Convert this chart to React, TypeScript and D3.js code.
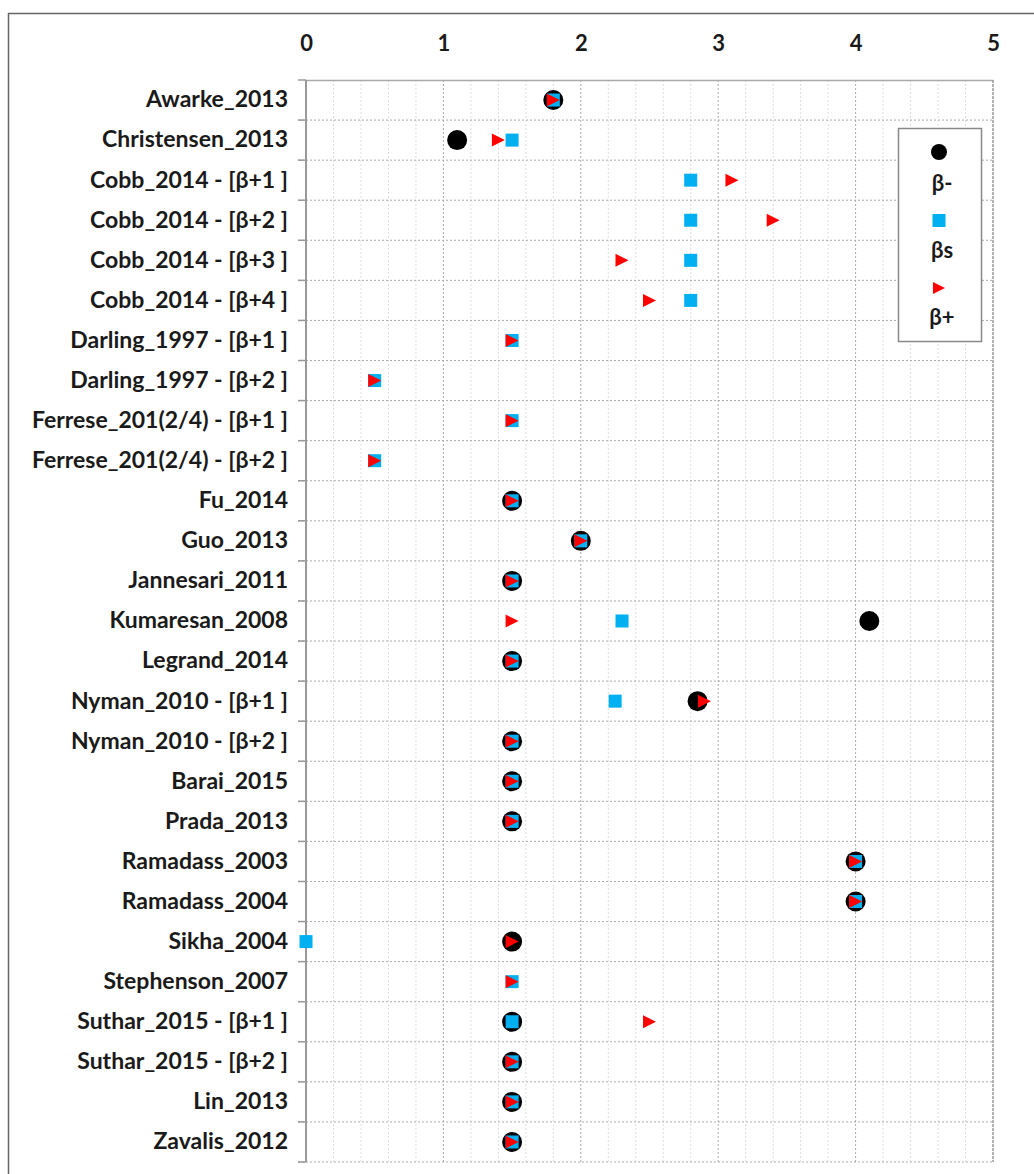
import { useEffect, useRef } from 'react';
import * as d3 from 'd3';

const studies = [
  'Awarke_2013',
  'Christensen_2013',
  'Cobb_2014 - [β+1 ]',
  'Cobb_2014 - [β+2 ]',
  'Cobb_2014 - [β+3 ]',
  'Cobb_2014 - [β+4 ]',
  'Darling_1997 - [β+1 ]',
  'Darling_1997 - [β+2 ]',
  'Ferrese_201(2/4) - [β+1 ]',
  'Ferrese_201(2/4) - [β+2 ]',
  'Fu_2014',
  'Guo_2013',
  'Jannesari_2011',
  'Kumaresan_2008',
  'Legrand_2014',
  'Nyman_2010 - [β+1 ]',
  'Nyman_2010 - [β+2 ]',
  'Barai_2015',
  'Prada_2013',
  'Ramadass_2003',
  'Ramadass_2004',
  'Sikha_2004',
  'Stephenson_2007',
  'Suthar_2015 - [β+1 ]',
  'Suthar_2015 - [β+2 ]',
  'Lin_2013',
  'Zavalis_2012',
];

// β- (black circles)
const betaMinus: (number | null)[] = [
  1.8, 1.1, null, null, null, null, null, null, null, null,
  1.5, 2, 1.5, 4.1, 1.5, 2.85, 1.5, 1.5, 1.5, 4, 4, 1.5, null, 1.5, 1.5, 1.5, 1.5,
];

// βs (blue squares)
const betaS: (number | null)[] = [
  1.8, 1.5, 2.8, 2.8, 2.8, 2.8, 1.5, 0.5, 1.5, 0.5,
  1.5, 2, 1.5, 2.3, 1.5, 2.25, 1.5, 1.5, 1.5, 4, 4, 0, 1.5, 1.5, 1.5, 1.5, 1.5,
];

// β+ (red triangles)
const betaPlus: (number | null)[] = [
  1.8, 1.4, 3.1, 3.4, 2.3, 2.5, 1.5, 0.5, 1.5, 0.5,
  1.5, 2, 1.5, 1.5, 1.5, 2.9, 1.5, 1.5, 1.5, 4, 4, 1.5, 1.5, 2.5, 1.5, 1.5, 1.5,
];

const xTicks = [0, 1, 2, 3, 4, 5];
const legendLabels = ['β-', 'βs', 'β+'];

const W = 1034;
const H = 1174;
const FONT = 'Lato, "Open Sans", sans-serif';
const BLUE = '#00B0F0';
const RED = '#FF0000';
const triPath = 'M-6.5,-6.5L6.5,0L-6.5,6.5Z';

export default function App() {
  const svgRef = useRef<SVGSVGElement>(null);

  useEffect(() => {
    const svg = d3.select(svgRef.current);
    svg.selectAll('*').remove();

    const margin = { top: 80, right: 41, bottom: 12, left: 306 };
    const innerWidth = W - margin.left - margin.right;
    const innerHeight = H - margin.top - margin.bottom;

    const x = d3.scaleLinear().domain([0, 5]).range([0, innerWidth]);
    const y = d3.scaleBand<string>().domain(studies).range([0, innerHeight]);

    // outer frame (runs off the right and bottom edges)
    svg.append('rect')
      .attr('x', 8.5).attr('y', 13.5)
      .attr('width', 1100).attr('height', 1300)
      .attr('fill', 'none').attr('stroke', '#666').attr('stroke-width', 1.5);

    const g = svg.append('g').attr('transform', `translate(${margin.left},${margin.top})`);

    // minor vertical grid
    g.selectAll('.minor')
      .data(d3.range(0, 25).map(i => i * 0.2).filter(v => Math.abs(v - Math.round(v)) > 0.01))
      .enter().append('line')
      .attr('x1', d => x(d)).attr('x2', d => x(d))
      .attr('y1', 0).attr('y2', innerHeight)
      .attr('stroke', '#ddd').attr('stroke-dasharray', '2,2');

    // major vertical grid
    g.selectAll('.major')
      .data(xTicks.slice(1, 5))
      .enter().append('line')
      .attr('x1', d => x(d)).attr('x2', d => x(d))
      .attr('y1', 0).attr('y2', innerHeight)
      .attr('stroke', '#aaa').attr('stroke-dasharray', '2,2');

    // horizontal grid at row boundaries
    const bounds = studies.map(s => y(s) as number).concat([innerHeight]);
    g.selectAll('.hgrid')
      .data(bounds.slice(1))
      .enter().append('line')
      .attr('x1', -8).attr('x2', innerWidth)
      .attr('y1', d => d).attr('y2', d => d)
      .attr('stroke', '#aaa').attr('stroke-dasharray', '2,2');

    // top and right borders
    g.append('line').attr('x1', 0).attr('x2', innerWidth).attr('y1', 0.5).attr('y2', 0.5)
      .attr('stroke', '#aaa').attr('stroke-width', 1.5);
    g.append('line').attr('x1', innerWidth).attr('x2', innerWidth).attr('y1', 0).attr('y2', innerHeight)
      .attr('stroke', '#999').attr('stroke-width', 1.5).attr('stroke-dasharray', '3,1');

    // left axis line and ticks
    g.append('line').attr('x1', 0).attr('x2', 0).attr('y1', 0).attr('y2', innerHeight)
      .attr('stroke', '#999').attr('stroke-width', 2);
    g.selectAll('.ytick')
      .data(bounds)
      .enter().append('line')
      .attr('x1', -8).attr('x2', 0)
      .attr('y1', d => d).attr('y2', d => d)
      .attr('stroke', '#999').attr('stroke-width', 1.5);

    // x tick labels on top
    const xAxis = g.append('g')
      .attr('transform', 'translate(0,-29)')
      .call(d3.axisTop(x).tickValues(xTicks).tickFormat(d3.format('d')).tickSize(0).tickPadding(0));
    xAxis.select('.domain').remove();
    xAxis.selectAll('text')
      .attr('dy', 0)
      .style('font-family', FONT)
      .style('font-weight', 'bold')
      .style('font-size', '22px')
      .style('fill', '#1a1a1a');

    // row labels
    const yAxis = g.append('g')
      .call(d3.axisLeft(y).tickSize(0).tickPadding(18));
    yAxis.select('.domain').remove();
    yAxis.selectAll('text')
      .style('font-family', FONT)
      .style('font-weight', 'bold')
      .style('font-size', '23px')
      .style('fill', '#1a1a1a');

    const cy = (i: number) => (y(studies[i]) as number) + y.bandwidth() / 2;

    // β- circles
    g.selectAll('.bm')
      .data(betaMinus.map((v, i) => ({ v, i })).filter(d => d.v !== null))
      .enter().append('circle')
      .attr('cx', d => x(d.v as number))
      .attr('cy', d => cy(d.i))
      .attr('r', 10)
      .attr('fill', '#000');

    // βs squares
    g.selectAll('.bs')
      .data(betaS.map((v, i) => ({ v, i })).filter(d => d.v !== null))
      .enter().append('rect')
      .attr('x', d => x(d.v as number) - 6.5)
      .attr('y', d => cy(d.i) - 6.5)
      .attr('width', 13).attr('height', 13)
      .attr('fill', BLUE);

    // β+ triangles
    g.selectAll('.bp')
      .data(betaPlus.map((v, i) => ({ v, i })).filter(d => d.v !== null))
      .enter().append('path')
      .attr('transform', d => `translate(${x(d.v as number)},${cy(d.i)})`)
      .attr('d', triPath)
      .attr('fill', RED);

    // legend
    const lg = svg.append('g').attr('transform', 'translate(898,128)');
    lg.append('rect')
      .attr('x', 0.5).attr('y', 0.5).attr('width', 83).attr('height', 213)
      .attr('fill', '#fff').attr('stroke', '#888').attr('stroke-width', 1.5);
    const lx = 41;
    lg.append('circle').attr('cx', lx).attr('cy', 24).attr('r', 8).attr('fill', '#000');
    lg.append('rect').attr('x', lx - 6.5).attr('y', 86).attr('width', 13).attr('height', 13).attr('fill', BLUE);
    lg.append('path').attr('transform', `translate(${lx},160)`).attr('d', 'M-6,-6L6,0L-6,6Z').attr('fill', RED);
    lg.selectAll('.lt')
      .data(legendLabels)
      .enter().append('text')
      .attr('x', lx + 3)
      .attr('y', (d, i) => 55 + i * 67)
      .attr('dy', '0.35em')
      .attr('text-anchor', 'middle')
      .style('font-family', FONT)
      .style('font-weight', 'bold')
      .style('font-size', '22px')
      .style('fill', '#1a1a1a')
      .text(d => d);
  }, []);

  return (
    <svg
      ref={svgRef}
      width={W}
      height={H}
      style={{ position: 'absolute', left: 0, top: 0, background: '#fff' }}
    />
  );
}
